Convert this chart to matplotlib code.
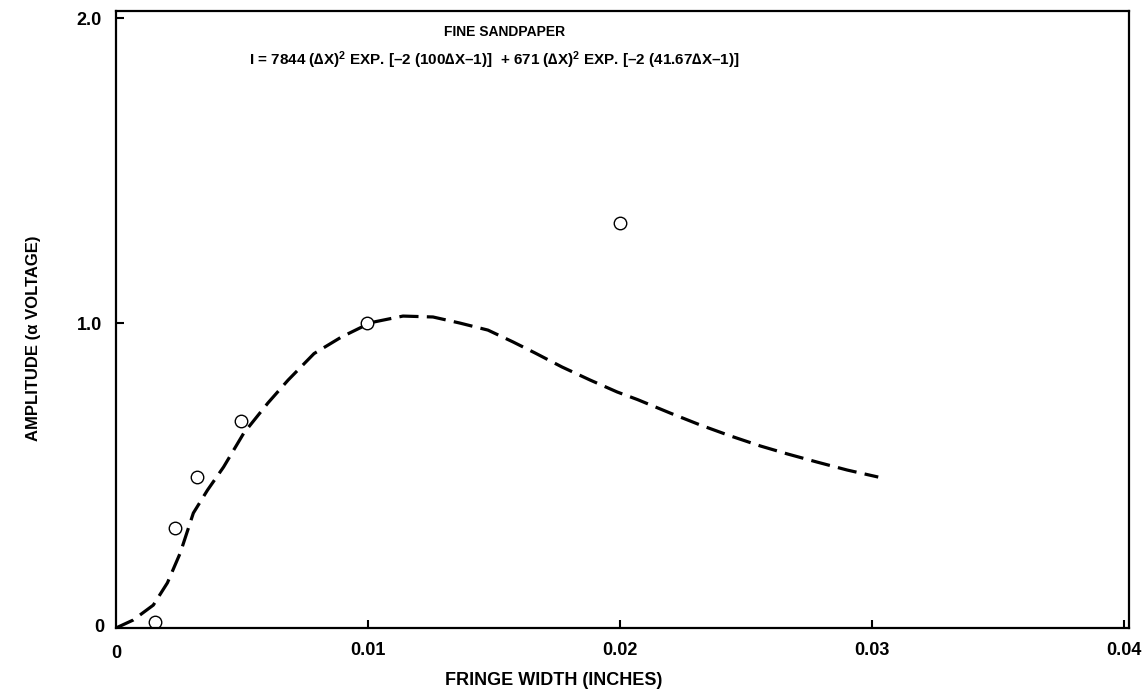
import matplotlib
matplotlib.use("Agg")
import matplotlib.pyplot as plt

plt.rcParams["font.family"] = ["Liberation Sans", "DejaVu Sans"]
plt.rcParams["font.weight"] = "bold"
plt.rcParams["mathtext.fontset"] = "custom"
plt.rcParams["mathtext.rm"] = "Liberation Sans:bold"
plt.rcParams["mathtext.it"] = "Liberation Sans:bold"
plt.rcParams["mathtext.bf"] = "Liberation Sans:bold"

# measured points (open circles)
meas_x = [0.00156, 0.00236, 0.0032, 0.00495, 0.00998, 0.0200]
meas_y = [0.02, 0.328, 0.495, 0.679, 1.0, 1.328]

# fitted curve
fit_x = [0.0, 0.00068, 0.00148, 0.00204, 0.00255, 0.00307, 0.00363, 0.00427,
         0.00507, 0.00603, 0.00683, 0.00786, 0.00894, 0.0100, 0.0102, 0.01139,
         0.01258, 0.01365, 0.01476, 0.01576, 0.01663, 0.0177, 0.01882, 0.01989,
         0.0207, 0.02199, 0.02318, 0.02438, 0.02557, 0.02664, 0.02783, 0.02902,
         0.03025]
fit_y = [0.0, 0.026, 0.075, 0.148, 0.246, 0.377, 0.452, 0.528,
         0.639, 0.738, 0.813, 0.90, 0.954, 0.997, 1.003, 1.023,
         1.020, 1.0, 0.977, 0.938, 0.902, 0.856, 0.813, 0.774,
         0.749, 0.705, 0.666, 0.63, 0.597, 0.571, 0.544, 0.518,
         0.495]

x_ticks = [0.01, 0.02, 0.03, 0.04]
x_labels = ["0.01", "0.02", "0.03", "0.04"]
y_ticks = [1.0, 2.0]
y_labels = ["1.0", "2.0"]

fig = plt.figure(figsize=(11.45, 6.97), dpi=100)
ax = fig.add_axes([0.1013, 0.099, 0.8847, 0.885])

ax.plot(fit_x, fit_y, color="black", lw=2.3, dashes=(6, 2.6),
        solid_capstyle="round")
ax.plot(meas_x, meas_y, "o", ms=9, mfc="white", mec="black", mew=1.0)

ax.set_xlim(0, 0.0402)
ax.set_ylim(0, 2.023)
ax.set_xticks(x_ticks)
ax.set_xticklabels(x_labels)
ax.set_yticks(y_ticks)
ax.set_yticklabels(y_labels)
ax.tick_params(direction="in", length=6, width=1.5, labelsize=13)
ax.tick_params(axis="x", pad=10)
ax.tick_params(axis="y", pad=10)
for s in ax.spines.values():
    s.set_linewidth(1.6)

# zero labels at the origin
ax.text(-0.00045, 0, "0", ha="right", va="center", fontsize=13,
        fontweight="bold")
ax.text(0, -0.055, "0", ha="center", va="top", fontsize=13,
        fontweight="bold")

ax.set_xlabel("FRINGE WIDTH (INCHES)", fontsize=13, fontweight="bold")
ax.set_ylabel("AMPLITUDE (α VOLTAGE)", fontsize=12, fontweight="bold")
ax.xaxis.set_label_coords(0.432, -0.072)
ax.yaxis.set_label_coords(-0.074, 0.47)

fig.text(0.441, 0.954, "FINE SANDPAPER", ha="center", va="center",
         fontsize=10, fontweight="bold")
fig.text(0.432, 0.913,
         "I = 7844 (∆X)$^2$ EXP. [–2 (100∆X–1)]  + 671 (∆X)$^2$ EXP. [–2 (41.67∆X–1)]",
         ha="center", va="center", fontsize=11, fontweight="bold")

fig.savefig("out.png", dpi=100)
